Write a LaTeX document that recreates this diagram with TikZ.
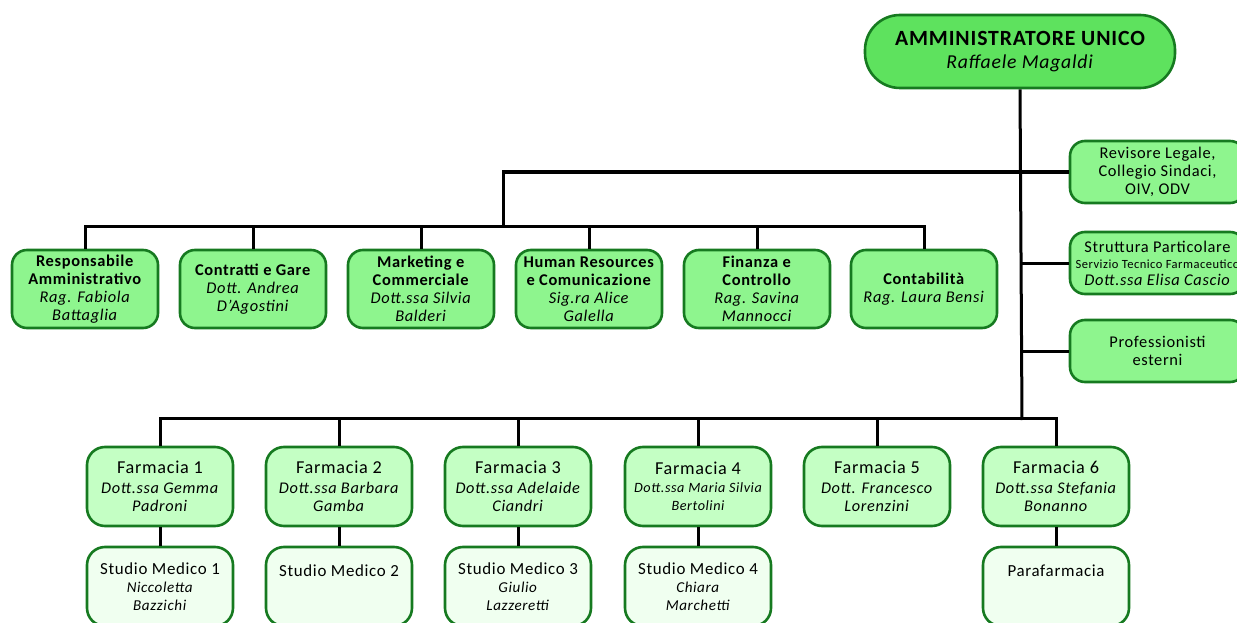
\documentclass[tikz,border=0pt]{standalone}
\usepackage{fontspec}
\setmainfont{Carlito}[LetterSpace=4]
\usetikzlibrary{positioning, calc}
\definecolor{headgreen}{RGB}{94, 226, 94}
\definecolor{staffgreen}{RGB}{142, 245, 142}
\definecolor{farmgreen}{RGB}{196, 255, 196}
\definecolor{studiogreen}{RGB}{240, 255, 240}
\definecolor{edgegreen}{RGB}{22, 122, 32}

\begin{document}
\begin{tikzpicture}[x=1pt, y=-1pt,
  box/.style={draw=edgegreen, line width=2.6pt, align=center, inner sep=0pt},
  staffbox/.style={box, fill=staffgreen, rounded corners=15pt, minimum width=146pt, minimum height=78pt, font=\fontsize{16.4}{18}\selectfont},
  sidebox/.style={box, fill=staffgreen, rounded corners=15pt, minimum width=175pt, minimum height=62pt, font=\fontsize{16.4}{18}\selectfont},
  farmbox/.style={box, fill=farmgreen, rounded corners=18pt, minimum width=146pt, minimum height=79pt, font=\fontsize{16.3}{18}\selectfont},
  studiobox/.style={box, fill=studiogreen, rounded corners=18pt, minimum width=146pt, minimum height=79pt, font=\fontsize{15.1}{18}\selectfont},
  toptext/.style={text height=13pt, text depth=34pt},
  link/.style={line width=3pt, black}]
  \useasboundingbox (0,0) rectangle (1237,623);
  \clip (0,0) rectangle (1237,623);

  % Vertice
  \node[box, fill=headgreen, rounded corners=35pt, minimum width=310pt, minimum height=73pt, font=\fontsize{19.7}{23}\selectfont] (au) at (1020, 51.5)
    {{\fontsize{21.7}{25}\selectfont\bfseries AMMINISTRATORE UNICO}\\\textit{Raffaele Magaldi}};

  % Organi di controllo e staff laterale
  \node[sidebox] (rev) at (1157.5, 172) {Revisore Legale,\\Collegio Sindaci,\\OIV, ODV};
  \node[sidebox] (stp) at (1157.5, 263) {Struttura Particolare\\[-2pt]{\fontsize{12.5}{14}\selectfont Servizio Tecnico Farmaceutico}\\[-1pt]\textit{Dott.ssa Elisa Cascio}};
  \node[sidebox] (pro) at (1157.5, 351) {Professionisti\\esterni};

  % Uffici amministrativi
  \node[staffbox] (dir1) at (85, 289) {\textbf{Responsabile}\\\textbf{Amministrativo}\\\textit{Rag. Fabiola}\\\textit{Battaglia}};
  \node[staffbox] (dir2) at (253, 289) {\textbf{Contratti e Gare}\\\textit{Dott. Andrea}\\\textit{D'Agostini}};
  \node[staffbox] (dir3) at (421, 289) {\textbf{Marketing e}\\\textbf{Commerciale}\\\textit{Dott.ssa Silvia}\\\textit{Balderi}};
  \node[staffbox] (dir4) at (589, 289) {\textbf{Human Resources}\\\textbf{e Comunicazione}\\\textit{Sig.ra Alice}\\\textit{Galella}};
  \node[staffbox] (dir5) at (757, 289) {\textbf{Finanza e}\\\textbf{Controllo}\\\textit{Rag. Savina}\\\textit{Mannocci}};
  \node[staffbox] (dir6) at (924, 289) {\textbf{Contabilità}\\\textit{Rag. Laura Bensi}};

  % Farmacie
  \node[farmbox] (farm1) at (160, 486.5) {{\fontsize{18.2}{20}\selectfont Farmacia 1}\\[2pt]\textit{Dott.ssa Gemma}\\\textit{Padroni}};
  \node[farmbox] (farm2) at (339, 486.5) {{\fontsize{18.2}{20}\selectfont Farmacia 2}\\[2pt]\textit{Dott.ssa Barbara}\\\textit{Gamba}};
  \node[farmbox] (farm3) at (518, 486.5) {{\fontsize{18.2}{20}\selectfont Farmacia 3}\\[2pt]\textit{Dott.ssa Adelaide}\\\textit{Ciandri}};
  \node[farmbox] (farm4) at (698, 486.5) {{\fontsize{18.2}{20}\selectfont Farmacia 4}\\{\fontsize{14.2}{16}\selectfont\itshape Dott.ssa Maria Silvia}\\{\fontsize{14.2}{16}\selectfont\itshape Bertolini}};
  \node[farmbox] (farm5) at (877, 486.5) {{\fontsize{18.2}{20}\selectfont Farmacia 5}\\[2pt]\textit{Dott. Francesco}\\\textit{Lorenzini}};
  \node[farmbox] (farm6) at (1056, 486.5) {{\fontsize{18.2}{20}\selectfont Farmacia 6}\\[2pt]\textit{Dott.ssa Stefania}\\\textit{Bonanno}};

  % Studi medici e parafarmacia
  \node[studiobox] (stud1) at (160, 586.5) {{\fontsize{16.9}{19}\selectfont Studio Medico 1}\\\textit{Niccoletta}\\\textit{Bazzichi}};
  \node[studiobox, toptext] (stud2) at (339, 586.5) {\fontsize{16.9}{19}\selectfont Studio Medico 2};
  \node[studiobox] (stud3) at (518, 586.5) {{\fontsize{16.9}{19}\selectfont Studio Medico 3}\\\textit{Giulio}\\\textit{Lazzeretti}};
  \node[studiobox] (stud4) at (698, 586.5) {{\fontsize{16.9}{19}\selectfont Studio Medico 4}\\\textit{Chiara}\\\textit{Marchetti}};
  \node[studiobox, toptext] (stud6) at (1056, 586.5) {\fontsize{16.9}{19}\selectfont Parafarmacia};

  % Collegamenti
  \coordinate (staffdrop) at (503, 228);
  \coordinate (farmbus) at (1022, 420);
  \draw[link] (au.south) -- (farmbus);
  \draw[link] (rev.west) -| (staffdrop);
  \draw[link] (stp.west) -- (stp.west -| farmbus);
  \draw[link] (pro.west) -- (pro.west -| farmbus);
  \draw[link] (dir1.north) -- ++(0,-22) -| (dir6.north);
  \foreach \i in {2,...,5}
    \draw[link] (dir\i.north) -- ++(0,-22);
  \draw[link] (farm1.north) -- ++(0,-27) -| (farm6.north);
  \foreach \i in {2,...,5}
    \draw[link] (farm\i.north) -- ++(0,-27);
  \foreach \i in {1,2,3,4,6}
    \draw[link] (farm\i.south) -- (stud\i.north);
\end{tikzpicture}
\end{document}
